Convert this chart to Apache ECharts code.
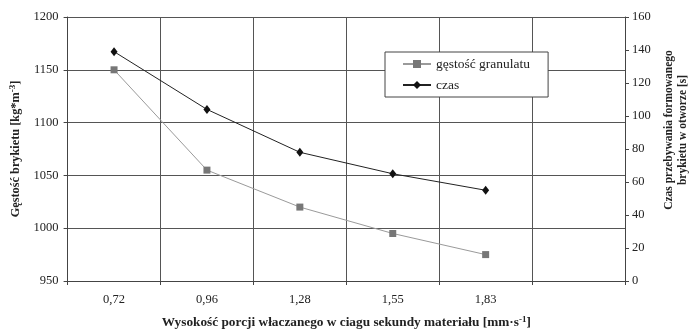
<!DOCTYPE html>
<html>
<head>
<meta charset="utf-8">
<script src="https://cdn.jsdelivr.net/npm/echarts@6/dist/echarts.min.js"></script>
<style>
html,body{margin:0;padding:0;background:#fff;}
#c{width:694px;height:334px;}
</style>
</head>
<body>
<div id="c"></div>
<script>
const categories = ['0,72', '0,96', '1,28', '1,55', '1,83', ''];
const gestosc = [1150, 1055, 1020, 995, 975, null];
const czas = [139, 104, 78, 65, 55, null];
const leftTicks = {min: 950, max: 1200, interval: 50};
const rightTicks = {min: 0, max: 160, interval: 20};

const FONT = '"Liberation Serif", "DejaVu Serif", serif';
const chart = echarts.init(document.getElementById('c'), null, {renderer: 'canvas'});
chart.setOption({
  animation: false,
  backgroundColor: '#fff',
  grid: {left: 67.6, right: 69, top: 17, bottom: 52, containLabel: false},
  legend: {
    orient: 'vertical',
    left: 385, top: 52,
    padding: [5, 18, 5, 17],
    itemGap: 7,
    itemWidth: 28, itemHeight: 10,
    backgroundColor: '#fff',
    borderColor: '#444', borderWidth: 1,
    textStyle: {fontFamily: FONT, fontSize: 13.5, color: '#222'},
    data: ['gęstość granulatu', 'czas']
  },
  xAxis: {
    type: 'category',
    data: categories,
    boundaryGap: true,
    axisLine: {lineStyle: {color: '#444'}},
    axisTick: {show: true, length: 4, interval: 0, lineStyle: {color: '#444'}},
    axisLabel: {fontFamily: FONT, fontSize: 12.5, color: '#222', margin: 12, interval: 0},
    splitLine: {show: true, interval: 0, lineStyle: {color: '#555', width: 1}},
    name: 'Wysokość porcji właczanego w ciagu sekundy materiału [mm·s{sup|-1}]',
    nameLocation: 'middle',
    nameGap: 34,
    nameTextStyle: {
      fontFamily: FONT, fontSize: 13.3, fontWeight: 'bold', color: '#222',
      rich: {sup: {fontFamily: FONT, fontSize: 9, fontWeight: 'bold', color: '#222', verticalAlign: 'top', padding: [0, 0, 6, 0]}}
    }
  },
  yAxis: [
    {
      type: 'value',
      min: leftTicks.min, max: leftTicks.max, interval: leftTicks.interval,
      axisLine: {show: true, lineStyle: {color: '#444'}},
      axisTick: {show: true, length: 4, lineStyle: {color: '#444'}},
      axisLabel: {fontFamily: FONT, fontSize: 12.5, color: '#222', margin: 9, formatter: v => String(v)},
      splitLine: {show: true, lineStyle: {color: '#555', width: 1}},
      name: 'Gęstość brykietu [kg*m{sup|-3}]',
      nameLocation: 'middle',
      nameGap: 44,
      nameTextStyle: {
        fontFamily: FONT, fontSize: 12.3, fontWeight: 'bold', color: '#222',
        rich: {sup: {fontFamily: FONT, fontSize: 9, fontWeight: 'bold', color: '#222', verticalAlign: 'top', padding: [0, 0, 6, 0]}}
      }
    },
    {
      type: 'value',
      position: 'right',
      min: rightTicks.min, max: rightTicks.max, interval: rightTicks.interval,
      axisLine: {show: true, lineStyle: {color: '#444'}},
      axisTick: {show: true, length: 4, lineStyle: {color: '#444'}},
      axisLabel: {fontFamily: FONT, fontSize: 12.5, color: '#222', margin: 7, formatter: v => String(v)},
      splitLine: {show: false}
    }
  ],
  graphic: [
    {
      type: 'text',
      x: 676, y: 130,
      rotation: Math.PI / 2,
      style: {
        text: 'Czas przebywania formowanego\nbrykietu w otworze [s]',
        fontFamily: FONT, fontSize: 11.5, fontWeight: 'bold', fill: '#222',
        align: 'center', verticalAlign: 'middle', lineHeight: 14
      }
    }
  ],
  series: [
    {
      name: 'gęstość granulatu',
      type: 'line',
      yAxisIndex: 0,
      data: gestosc,
      symbol: 'rect', symbolSize: 7,
      itemStyle: {color: '#777'},
      lineStyle: {color: '#9a9a9a', width: 1},
      z: 3
    },
    {
      name: 'czas',
      type: 'line',
      yAxisIndex: 1,
      data: czas,
      symbol: 'diamond', symbolSize: [7, 9],
      itemStyle: {color: '#111'},
      lineStyle: {color: '#222', width: 1},
      z: 4
    }
  ]
});
</script>
</body>
</html>
